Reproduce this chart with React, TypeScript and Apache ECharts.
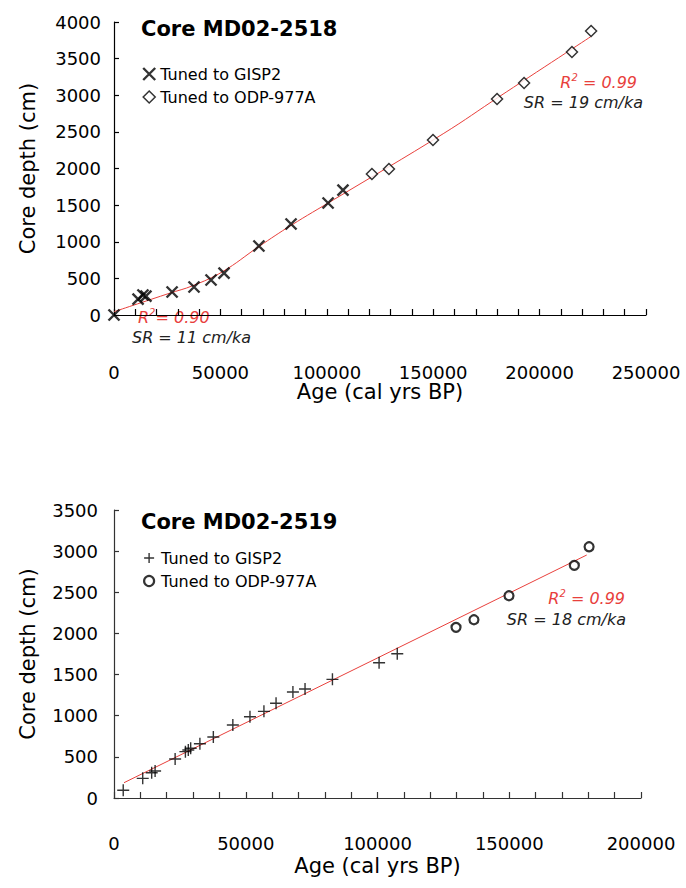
import { useEffect, useRef } from "react";
import * as echarts from "echarts";

// Core MD02-2518: tie points (age in cal yrs BP, depth in cm)
const ageGisp2518 = [0, 11300, 13600, 15000, 27300, 37600, 45600, 51700, 68100, 83200, 100600, 107600];
const depthGisp2518 = [0, 218, 273, 259, 314, 382, 478, 573, 942, 1242, 1529, 1706];
const ageOdp2518 = [121200, 129200, 149900, 180000, 192700, 215200, 224200];
const depthOdp2518 = [1925, 1993, 2389, 2949, 3167, 3590, 3877];
// Fitted age-depth curve for MD02-2518
const fitAge2518 = [0, 26000, 37000, 51000, 68000, 83500, 103000, 155000, 181000, 224000];
const fitDepth2518 = [45, 296, 400, 591, 933, 1229, 1570, 2480, 2980, 3799];

// Core MD02-2519: tie points
const ageGisp2519 = [3500, 10900, 14300, 15600, 23200, 27100, 28200, 29100, 32600, 37700, 45100, 51600, 56900, 61500, 67900, 72500, 82900, 100600, 107500];
const depthGisp2519 = [94, 239, 307, 328, 474, 563, 583, 604, 660, 741, 887, 988, 1053, 1151, 1288, 1324, 1442, 1644, 1753];
const ageOdp2519 = [129800, 136600, 149900, 174700, 180300];
const depthOdp2519 = [2074, 2166, 2458, 2827, 3053];
// Linear fit for MD02-2519
const fitAge2519 = [3800, 179400];
const fitDepth2519 = [186, 2953];

const titles = ["Core MD02-2518", "Core MD02-2519"];
const seriesNames = ["Tuned to GISP2", "Tuned to ODP-977A"];
const fitNotes = [
  { r2: "0.90", sr: "SR = 11 cm/ka" },
  { r2: "0.99", sr: "SR = 19 cm/ka" },
  { r2: "0.99", sr: "SR = 18 cm/ka" },
];

const FONT = "DejaVu Sans";
const RED = "#e8403c";
const CROSS = "path://M0,0L10,10M10,0L0,10";
const PLUS = "path://M5,0L5,10M0,5L10,5";
const NOTE_SIZE = 16;

const zip = (xs: number[], ys: number[]) => xs.map((x, i) => [x, ys[i]]);

function r2Text(value: string, spaced: boolean) {
  return `{a|R}{b|2}{a|${spaced ? " " : ""}= ${value}}`;
}

export default function App() {
  const ref = useRef<HTMLDivElement>(null);

  useEffect(() => {
    document.body.style.margin = "0";
    const chart = echarts.init(ref.current!, null, { renderer: "svg" });

    const xAxisBase = (gridIndex: number, max: number, offset: number, labelMargin: number, nameGap: number, color: string) => ({
      type: "value" as const,
      gridIndex,
      min: 0,
      max,
      interval: 10000,
      offset,
      splitLine: { show: false },
      axisLine: { show: true, lineStyle: { color, width: 1.2 } },
      axisTick: { show: true, inside: true, length: 6, lineStyle: { color, width: 1.2 } },
      axisLabel: {
        margin: labelMargin,
        fontSize: 18,
        fontFamily: FONT,
        color: "#000",
        formatter: (v: number) => (v % 50000 === 0 ? String(v) : ""),
      },
      name: "Age (cal yrs BP)",
      nameLocation: "middle" as const,
      nameGap,
      nameTextStyle: { fontSize: 21, fontFamily: FONT, color: "#000" },
    });

    const yAxisBase = (gridIndex: number, max: number, labelMargin: number, color: string) => ({
      type: "value" as const,
      gridIndex,
      min: 0,
      max,
      interval: 500,
      splitLine: { show: false },
      axisLine: { show: true, lineStyle: { color, width: 1.2 } },
      axisTick: { show: true, inside: true, length: 5, lineStyle: { color, width: 1.2 } },
      axisLabel: {
        margin: labelMargin,
        fontSize: 18,
        fontFamily: FONT,
        color: "#000",
        formatter: (v: number) => String(v),
      },
      name: "Core depth (cm)",
      nameLocation: "middle" as const,
      nameGap: 76,
      nameTextStyle: { fontSize: 21, fontFamily: FONT, color: "#000" },
    });

    const crossStyle = { color: "transparent", borderColor: "#000", borderWidth: 2.4 };
    const plusStyle = { color: "transparent", borderColor: "#000", borderWidth: 1.4 };
    const diamondStyle = { color: "#fff", borderColor: "#000", borderWidth: 1.5 };
    const circleStyle = { color: "#fff", borderColor: "#000", borderWidth: 2.2 };

    const legendBase = (top: number, size: number, icons: any[]) => ({
      orient: "vertical" as const,
      left: 143 - size / 2,
      top,
      itemWidth: size,
      itemHeight: size,
      itemGap: 7,
      selectedMode: false,
      textStyle: { fontSize: 16, fontFamily: FONT, color: "#000", padding: [0, 0, 0, 12 - size] },
      data: seriesNames.map((name, i) => ({ name, ...icons[i] })),
    });

    const noteText = (x: number, y: number, align: "left" | "right", text: string, red: boolean, rich: boolean) => ({
      type: "text",
      x,
      y,
      style: {
        text,
        align,
        verticalAlign: "middle",
        fill: red ? RED : "#222",
        fontSize: NOTE_SIZE,
        fontStyle: "italic",
        fontFamily: FONT,
        ...(rich
          ? {
              rich: {
                a: { fontSize: NOTE_SIZE, fontStyle: "italic", fontFamily: FONT, fill: RED, lineHeight: 19 },
                b: { fontSize: 10, fontStyle: "italic", fontFamily: FONT, fill: RED, verticalAlign: "top", lineHeight: 19 },
              },
            }
          : {}),
      },
    });

    chart.setOption({
      animation: false,
      backgroundColor: "#fff",
      title: [
        { text: titles[0], left: 136, top: 13, textStyle: { fontSize: 21, fontWeight: "bold", fontFamily: FONT, color: "#000" } },
        { text: titles[1], left: 136, top: 506, textStyle: { fontSize: 21, fontWeight: "bold", fontFamily: FONT, color: "#000" } },
      ],
      legend: [
        legendBase(61, 12, [
          { icon: CROSS, itemStyle: crossStyle },
          { icon: "diamond", itemStyle: diamondStyle },
        ]),
        legendBase(545, 10, [
          { icon: PLUS, itemStyle: plusStyle },
          { icon: "circle", itemStyle: circleStyle },
        ]),
      ],
      grid: [
        { left: 114, top: 22, width: 532, height: 293 },
        { left: 114, top: 510, width: 527, height: 288 },
      ],
      xAxis: [
        xAxisBase(0, 250000, 41, 7, 15, "#000"),
        xAxisBase(1, 200000, 12, 24, 45, "#333"),
      ],
      yAxis: [yAxisBase(0, 4000, 13, "#000"), yAxisBase(1, 3500, 16, "#333")],
      series: [
        {
          type: "line",
          name: "fit2518",
          xAxisIndex: 0,
          yAxisIndex: 0,
          data: zip(fitAge2518, fitDepth2518),
          smooth: 0.4,
          showSymbol: false,
          lineStyle: { color: RED, width: 1 },
          z: 1,
        },
        {
          type: "scatter",
          name: seriesNames[0],
          xAxisIndex: 0,
          yAxisIndex: 0,
          data: zip(ageGisp2518, depthGisp2518),
          symbol: CROSS,
          symbolSize: 11,
          itemStyle: crossStyle,
          z: 3,
        },
        {
          type: "scatter",
          name: seriesNames[1],
          xAxisIndex: 0,
          yAxisIndex: 0,
          data: zip(ageOdp2518, depthOdp2518),
          symbol: "diamond",
          symbolSize: 11,
          itemStyle: diamondStyle,
          z: 3,
        },
        {
          type: "line",
          name: "fit2519",
          xAxisIndex: 1,
          yAxisIndex: 1,
          data: zip(fitAge2519, fitDepth2519),
          showSymbol: false,
          lineStyle: { color: RED, width: 1 },
          z: 1,
        },
        {
          type: "scatter",
          name: seriesNames[0],
          xAxisIndex: 1,
          yAxisIndex: 1,
          data: zip(ageGisp2519, depthGisp2519),
          symbol: PLUS,
          symbolSize: 12,
          itemStyle: plusStyle,
          z: 3,
        },
        {
          type: "scatter",
          name: seriesNames[1],
          xAxisIndex: 1,
          yAxisIndex: 1,
          data: zip(ageOdp2519, depthOdp2519),
          symbol: "circle",
          symbolSize: 9,
          itemStyle: circleStyle,
          z: 3,
        },
      ],
      graphic: [
        noteText(138, 317, "left", r2Text(fitNotes[0].r2, false), true, true),
        noteText(132, 337, "left", fitNotes[0].sr, false, false),
        noteText(637, 82, "right", r2Text(fitNotes[1].r2, true), true, true),
        noteText(643, 102, "right", fitNotes[1].sr, false, false),
        noteText(625, 598, "right", r2Text(fitNotes[2].r2, true), true, true),
        noteText(626, 619, "right", fitNotes[2].sr, false, false),
      ],
    });

    return () => chart.dispose();
  }, []);

  return <div ref={ref} style={{ width: 686, height: 888 }} />;
}
